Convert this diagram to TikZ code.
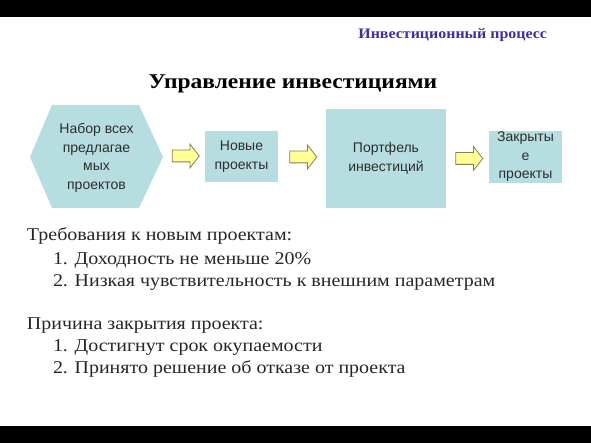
\documentclass[tikz,border=0pt]{standalone}
\usepackage{fontspec}
\setmainfont{Liberation Serif}
\newfontfamily\boxfont{Liberation Sans}
\newfontfamily\bodyfont[FakeStretch=1.11]{Liberation Serif}
\newfontfamily\titlefont[FakeStretch=1.12]{Liberation Serif}
\newfontfamily\headfont[FakeStretch=1.1]{Liberation Serif}
\usetikzlibrary{shapes.arrows}
\definecolor{boxteal}{RGB}{182,221,224}
\definecolor{arrowfill}{RGB}{255,255,150}
\definecolor{arrowline}{RGB}{130,130,90}
\definecolor{headblue}{RGB}{62,46,158}
\definecolor{boxtext}{RGB}{45,45,45}

\begin{document}
\begin{tikzpicture}[x=1pt,y=-1pt]
\tikzstyle{every node}=[inner sep=0pt, outer sep=0pt]
\tikzstyle{box}=[fill=boxteal, align=center, text=boxtext, font=\boxfont\fontsize{14}{18.5}\selectfont]
\tikzstyle{blockarrow}=[single arrow, draw=arrowline, fill=arrowfill, line width=0.8pt, inner xsep=0pt, inner ysep=5.5pt, minimum height=27pt, single arrow head extend=6pt, single arrow tip angle=104]
\tikzstyle{body}=[anchor=base west, font=\bodyfont\fontsize{18}{22}\selectfont, text=black!85]
\useasboundingbox (0,0) rectangle (591,443);
\fill[black] (0,0) rectangle (591,17);
\fill[black] (0,426) rectangle (591,443);
% header and title
\node (head) [anchor=base east, text=headblue, font=\headfont\bfseries\fontsize{14.5}{16}\selectfont] at (547,39) {Инвестиционный процесс};
\node (title) [anchor=base, font=\titlefont\bfseries\fontsize{21}{24}\selectfont] at (293,89) {Управление инвестициями};
% boxes
\fill[boxteal] (30,157) -- (52,105) -- (139,105) -- (163,157) -- (139,208) -- (52,208) -- cycle;
\node (nabor) [box] at (96.5,158) {Набор всех\\предлагае\\мых\\проектов};
\node (novye) [box, minimum width=73pt, minimum height=51pt] at (241.5,156.5) {Новые\\проекты};
\node (portf) [box, minimum width=120pt, minimum height=99pt] at (386,158.5) {Портфель\\инвестиций};
\node (zakr) [box, minimum width=73pt, minimum height=52pt] at (525.5,157) {Закрыты\\е\\проекты};
\node (a1) [blockarrow] at (183.5,156) {};
\node (a2) [blockarrow] at (301,157) {};
\node (a3) [blockarrow] at (467,158.5) {};
% text
\node (req0) [body] at (27,241) {Требования к новым проектам:};
\node (req1) [body] at (53,265) {1. Доходность не меньше 20\%};
\node (req2) [body] at (53,287) {2. Низкая чувствительность к внешним параметрам};
\node (cls0) [body] at (27,329) {Причина закрытия проекта:};
\node (cls1) [body] at (53,351) {1. Достигнут срок окупаемости};
\node (cls2) [body] at (53,373) {2. Принято решение об отказе от проекта};
\end{tikzpicture}
\end{document}
